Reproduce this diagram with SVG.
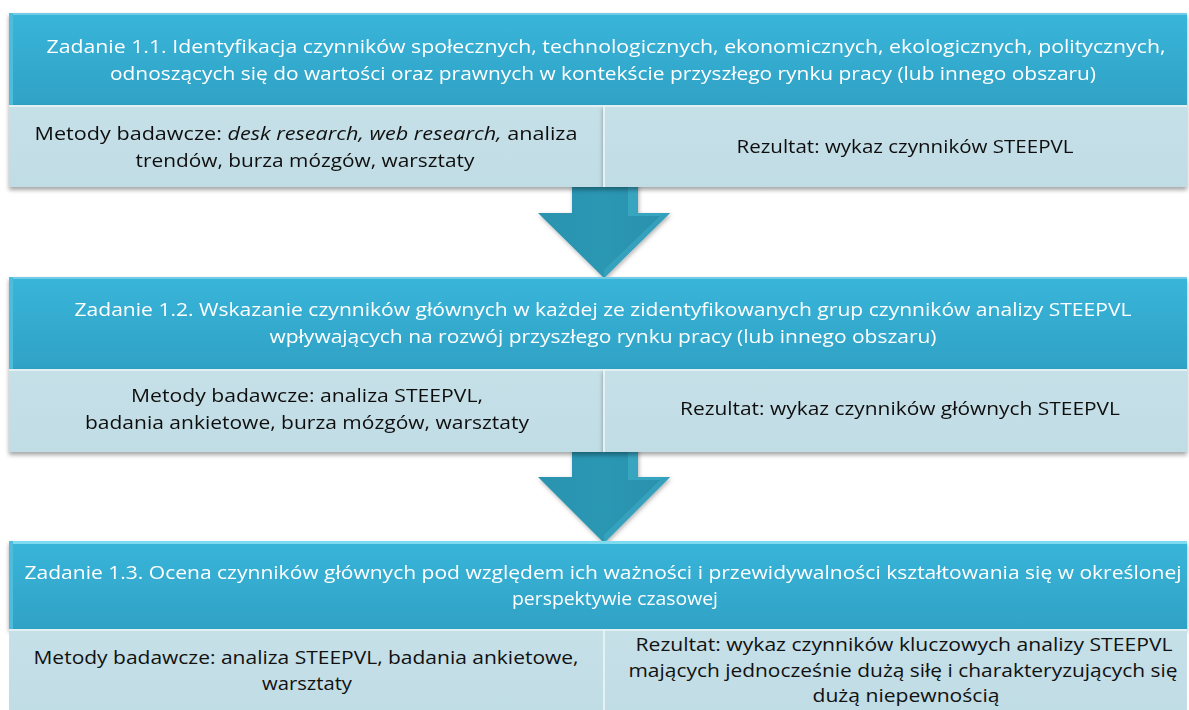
<svg xmlns="http://www.w3.org/2000/svg" width="1189" height="710" viewBox="0 0 1189 710">
<style>
  text { font-family: "Open Sans", "Liberation Sans", sans-serif; font-size: 19px; text-anchor: middle; }
  .hd { fill: #ffffff; }
  .lo { fill: #111111; }
  .it { font-style: italic; }
  .hdr { fill: url(#gHead); }
  .band { fill: url(#gBand); }
  .edgeT { fill: #6fcbe6; }
  .edgeL { fill: #4dbcdd; }
  .bandT { fill: #e2f0f4; }
  .arrow { fill: url(#gArrow); }
</style>
<defs>
  <linearGradient id="gHead" x1="0" y1="0" x2="0" y2="1">
    <stop offset="0" stop-color="#39b5da"/>
    <stop offset="1" stop-color="#2fa2c5"/>
  </linearGradient>
  <linearGradient id="gBand" x1="0" y1="0" x2="0" y2="1">
    <stop offset="0" stop-color="#c6e0e8"/>
    <stop offset="1" stop-color="#c0dce4"/>
  </linearGradient>
  <linearGradient id="gArrow" x1="0" y1="0" x2="1" y2="0">
    <stop offset="0" stop-color="#2a93b0"/>
    <stop offset="0.5" stop-color="#2c97b3"/>
    <stop offset="1" stop-color="#2a90ad"/>
  </linearGradient>
  <filter id="sh" x="-5%" y="-10%" width="110%" height="130%">
    <feDropShadow dx="0" dy="3" stdDeviation="2" flood-color="#000000" flood-opacity="0.35"/>
  </filter>
  <filter id="ash" x="-20%" y="-20%" width="140%" height="140%">
    <feDropShadow dx="1" dy="2" stdDeviation="2" flood-color="#000000" flood-opacity="0.3"/>
  </filter>
</defs>

<g id="connectors">
  <g id="arrow1" filter="url(#ash)">
    <path class="arrow" d="M572,180 L638,180 L638,213 L670,213 L604,278 L538,213 L572,213 Z"/>
    <path d="M628,180 L638,180 L638,213 L670,213 L660,216 L628,216 Z" fill="#3fb0cc" opacity="0.6"/>
    <path d="M604,278 L670,213 L660,216 L604,270 Z" fill="#3aa6c2" opacity="0.7"/>
  </g>
  <g id="arrow2" filter="url(#ash)">
    <path class="arrow" d="M572,444 L638,444 L638,477 L670,477 L604,543 L538,477 L572,477 Z"/>
    <path d="M628,444 L638,444 L638,477 L670,477 L660,480 L628,480 Z" fill="#3fb0cc" opacity="0.6"/>
    <path d="M604,543 L670,477 L660,480 L604,535 Z" fill="#3aa6c2" opacity="0.7"/>
  </g>
</g>

<g id="task1" filter="url(#sh)">
  <rect class="hdr" x="9" y="13" width="1178" height="92"/>
  <rect class="edgeT" x="9" y="13" width="1178" height="2"/>
  <rect class="edgeL" x="9" y="13" width="4" height="92"/>
  <text class="hd" x="606" y="53" textLength="1119" lengthAdjust="spacingAndGlyphs">Zadanie 1.1. Identyfikacja czynników społecznych, technologicznych, ekonomicznych, ekologicznych, politycznych,</text>
  <text class="hd" x="603" y="80" textLength="986" lengthAdjust="spacingAndGlyphs">odnoszących się do wartości oraz prawnych w kontekście przyszłego rynku pracy (lub innego obszaru)</text>
</g>
<g id="methods1" filter="url(#sh)">
  <rect class="band" x="9" y="105" width="594" height="82"/>
  <rect class="bandT" x="9" y="105" width="594" height="2"/>
  <text class="lo" x="306" y="140" textLength="543" lengthAdjust="spacingAndGlyphs">Metody badawcze: <tspan class="it">desk research, web research,</tspan> analiza</text>
  <text class="lo" x="305" y="167" textLength="339" lengthAdjust="spacingAndGlyphs">trendów, burza mózgów, warsztaty</text>
</g>
<g id="result1" filter="url(#sh)">
  <rect class="band" x="605" y="105" width="582" height="82"/>
  <rect class="bandT" x="605" y="105" width="582" height="2"/>
  <rect x="603" y="105" width="2" height="82" fill="#e4f1f5"/>
  <text class="lo" x="905" y="153" textLength="337" lengthAdjust="spacingAndGlyphs">Rezultat: wykaz czynników STEEPVL</text>
</g>

<g id="task2" filter="url(#sh)">
  <rect class="hdr" x="9" y="277" width="1178" height="92"/>
  <rect class="edgeT" x="9" y="277" width="1178" height="2"/>
  <rect class="edgeL" x="9" y="277" width="4" height="92"/>
  <text class="hd" x="603" y="316" textLength="1057" lengthAdjust="spacingAndGlyphs">Zadanie 1.2. Wskazanie czynników głównych w każdej ze zidentyfikowanych grup czynników analizy STEEPVL</text>
  <text class="hd" x="603" y="343" textLength="667" lengthAdjust="spacingAndGlyphs">wpływających na rozwój przyszłego rynku pracy (lub innego obszaru)</text>
</g>
<g id="methods2" filter="url(#sh)">
  <rect class="band" x="9" y="369" width="594" height="83"/>
  <rect class="bandT" x="9" y="369" width="594" height="2"/>
  <text class="lo" x="307" y="402" textLength="352" lengthAdjust="spacingAndGlyphs">Metody badawcze: analiza STEEPVL,</text>
  <text class="lo" x="307" y="429" textLength="444" lengthAdjust="spacingAndGlyphs">badania ankietowe, burza mózgów, warsztaty</text>
</g>
<g id="result2" filter="url(#sh)">
  <rect class="band" x="605" y="369" width="582" height="83"/>
  <rect class="bandT" x="605" y="369" width="582" height="2"/>
  <rect x="603" y="369" width="2" height="83" fill="#e4f1f5"/>
  <text class="lo" x="900" y="415" textLength="440" lengthAdjust="spacingAndGlyphs">Rezultat: wykaz czynników głównych STEEPVL</text>
</g>

<g id="task3" filter="url(#sh)">
  <rect class="hdr" x="9" y="541" width="1178" height="88"/>
  <rect x="9" y="541" width="1178" height="3" fill="#7fdcf0"/>
  <rect class="edgeL" x="9" y="541" width="4" height="88"/>
  <text class="hd" x="603" y="579" textLength="1157" lengthAdjust="spacingAndGlyphs">Zadanie 1.3. Ocena czynników głównych pod względem ich ważności i przewidywalności kształtowania się w określonej</text>
  <text class="hd" x="615" y="605" textLength="206" lengthAdjust="spacingAndGlyphs">perspektywie czasowej</text>
</g>
<g id="methods3">
  <rect class="band" x="9" y="629" width="594" height="81"/>
  <rect class="bandT" x="9" y="629" width="594" height="2"/>
  <text class="lo" x="306" y="664" textLength="545" lengthAdjust="spacingAndGlyphs">Metody badawcze: analiza STEEPVL, badania ankietowe,</text>
  <text class="lo" x="307" y="690" textLength="90" lengthAdjust="spacingAndGlyphs">warsztaty</text>
</g>
<g id="result3">
  <rect class="band" x="605" y="629" width="582" height="81"/>
  <rect class="bandT" x="605" y="629" width="582" height="2"/>
  <rect x="603" y="629" width="2" height="81" fill="#e4f1f5"/>
  <text class="lo" x="904" y="651" textLength="537" lengthAdjust="spacingAndGlyphs">Rezultat: wykaz czynników kluczowych analizy STEEPVL</text>
  <text class="lo" x="903" y="677" textLength="549" lengthAdjust="spacingAndGlyphs">mających jednocześnie dużą siłę i charakteryzujących się</text>
  <text class="lo" x="906" y="702" textLength="187" lengthAdjust="spacingAndGlyphs">dużą niepewnością</text>
</g>
</svg>
